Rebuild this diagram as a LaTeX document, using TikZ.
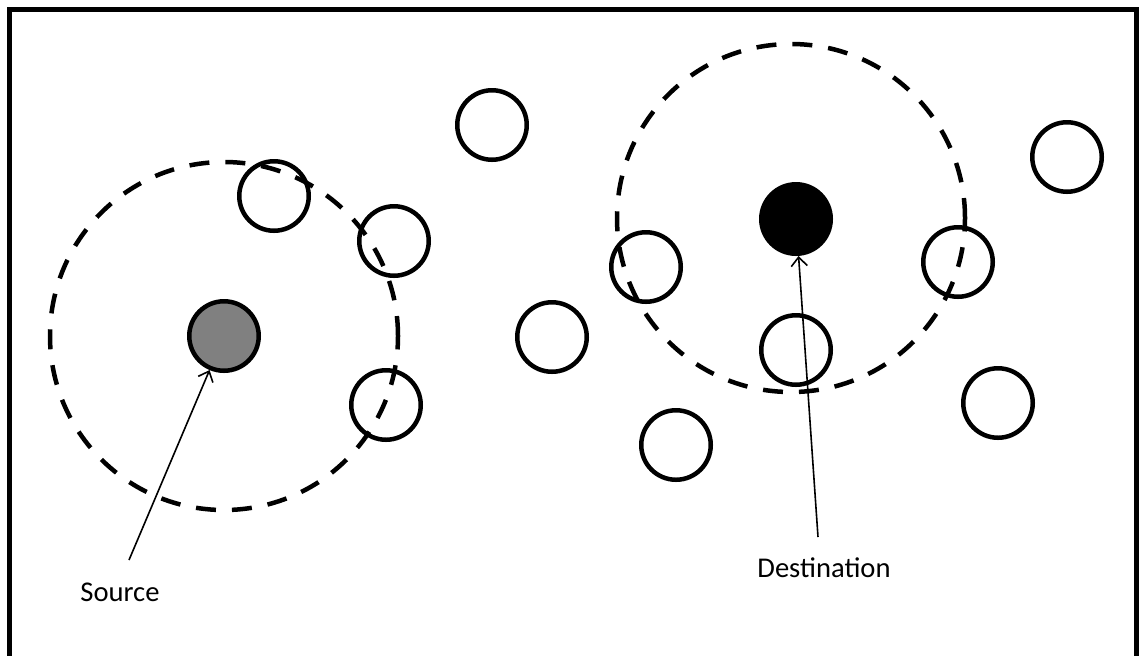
\documentclass[tikz,border=0pt]{standalone}
\usepackage{fontspec}
\setmainfont{Carlito}
\usetikzlibrary{arrows.meta}
\begin{document}
\begin{tikzpicture}[x=0.5pt,y=-0.5pt,
    host/.style={shape=circle,draw=black,line width=2.25pt,minimum size=34.75pt,inner sep=0pt},
    txrange/.style={shape=circle,draw=black,line width=2.25pt,dash pattern=on 10pt off 8pt,minimum size=174pt,inner sep=0pt},
    pointer/.style={-{Straight Barb[length=4.5pt,width=8pt]},line width=0.8pt},
    caption/.style={anchor=base west,inner sep=0pt,font=\fontsize{14.3}{17}\selectfont}]
    \useasboundingbox (0,0) rectangle (1139,655);
    \draw[line width=2.5pt] (9.5,9) rectangle (1136.5,659);
    % ordinary hosts
    \foreach \name/\x/\y in {h1/274/196, h2/394/241, h3/492/125, h4/386/405, h5/552/337, h6/646/267, h7/796/350, h8/676/445, h9/958/262, h10/998/403, h11/1067/157}
        \node[host] (\name) at (\x,\y) {};
    % source and destination
    \node[host,fill=black!50] (src) at (224,336) {};
    \node[host,fill=black] (dst) at (796,219) {};
    % transmission ranges
    \node[txrange] (srcRange) at (224,336) {};
    \node[txrange] (dstRange) at (791,218) {};
    % labels
    \node[caption] (srcLabel) at (80,601) {Source};
    \node[caption] (dstLabel) at (757,577) {Destination};
    \coordinate (srcTail) at (129,560);
    \coordinate (dstTail) at (818,537);
    \draw[pointer] (srcTail) -- (src);
    \draw[pointer] (dstTail) -- (dst);
\end{tikzpicture}
\end{document}
